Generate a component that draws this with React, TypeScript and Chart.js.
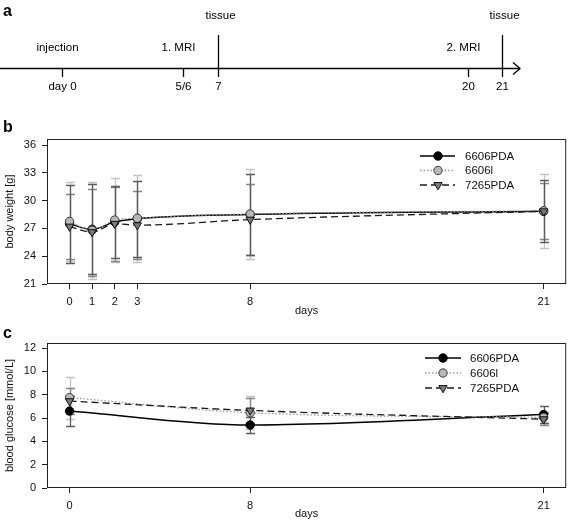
import React, { useEffect, useRef } from 'react';
import { Chart, registerables } from 'chart.js';

Chart.register(...registerables);

const FONT = '"Liberation Sans", Arial, Helvetica, sans-serif';

// ---------- Panel a: study timeline (schematic positions) ----------
const timelineTickLabels = ['day 0', '5/6', '7', '20', '21'];
const timelinePos = [0, 5.4, 7, 18.2, 19.7];
const timelineEvents = ['injection', '1. MRI', 'tissue', '2. MRI', 'tissue'];
const timelineTall = [false, false, true, false, true];

// ---------- Series ----------
const seriesNames = ['6606PDA', '6606l', '7265PDA'];

// ---------- Panel b: body weight [g] ----------
const weightDays = [0, 1, 2, 3, 8, 21];
const weight6606PDA = [27.5, 26.9, 27.7, 28.05, 28.5, 28.85];
const weight6606PDASD = [4.2, 4.85, 3.9, 4.1, 4.4, 3.35];
const weight6606I = [27.75, 26.8, 27.9, 28.1, 28.55, 28.9];
const weight6606ISD = [4.3, 5.25, 4.5, 4.7, 4.85, 4.0];
const weight7265PDA = [27.2, 26.6, 27.5, 27.35, 27.95, 28.85];
const weight7265PDASD = [3.5, 4.7, 4.0, 3.7, 3.85, 3.0];
const weightYTicks = [21, 24, 27, 30, 33, 36];

// ---------- Panel c: blood glucose [mmol/L] ----------
const glucoseDays = [0, 8, 21];
const glucose6606PDA = [6.6, 5.4, 6.3];
const glucose6606PDASD = [1.25, 0.65, 0.7];
const glucose6606I = [7.75, 6.45, 6.05];
const glucose6606ISD = [1.8, 1.4, 0.5];
const glucose7265PDA = [7.45, 6.65, 5.9];
const glucose7265PDASD = [1.1, 1.05, 0.5];
const glucoseYTicks = [0, 2, 4, 6, 8, 10, 12];

type Style = {
  line: string; lw: number; dash: number[]; point: string; r: number;
  fill: string; pborder: string; rot: number; err: string; order: number; errZ: number;
};

const seriesStyles: Style[] = [
  { line: '#000000', lw: 1.4, dash: [], point: 'circle', r: 4.2, fill: '#000000', pborder: '#000000', rot: 0, err: '#5c5c5c', order: 3, errZ: 2 },
  { line: '#9a9a9a', lw: 1.3, dash: [1.5, 2], point: 'circle', r: 4.2, fill: '#b8b8b8', pborder: '#3a3a3a', rot: 0, err: '#c4c4c4', order: 2, errZ: 0 },
  { line: '#1a1a1a', lw: 1.3, dash: [7, 4], point: 'triangle', r: 4.8, fill: '#7a7a7a', pborder: '#111111', rot: 180, err: '#868686', order: 1, errZ: 1 },
];

function buildDatasets(days: number[], means: number[][], sds: number[][]) {
  return seriesNames.map((name, i) => {
    const st = seriesStyles[i];
    return {
      label: name,
      data: days.map((d, j) => ({ x: d, y: means[i][j] })),
      sd: sds[i],
      errColor: st.err,
      errZ: st.errZ,
      borderColor: st.line,
      borderWidth: st.lw,
      borderDash: st.dash,
      backgroundColor: st.fill,
      pointStyle: st.point,
      pointRadius: st.r,
      pointHoverRadius: st.r,
      pointBackgroundColor: st.fill,
      pointBorderColor: st.pborder,
      pointBorderWidth: 1,
      pointRotation: st.rot,
      cubicInterpolationMode: 'monotone',
      fill: false,
      order: st.order,
    };
  });
}

const errorBarPlugin = {
  id: 'errorBars',
  beforeDatasetsDraw(chart: any) {
    const { ctx, scales } = chart;
    const x = scales.x;
    const y = scales.y;
    const sets = [...chart.data.datasets].sort((a: any, b: any) => a.errZ - b.errZ);
    sets.forEach((ds: any) => {
      ctx.save();
      ctx.strokeStyle = ds.errColor;
      ctx.lineWidth = 1.3;
      ds.data.forEach((p: any, i: number) => {
        const px = Math.round(x.getPixelForValue(p.x)) + 0.5;
        const top = Math.round(y.getPixelForValue(p.y + ds.sd[i])) + 0.5;
        const bot = Math.round(y.getPixelForValue(p.y - ds.sd[i])) + 0.5;
        ctx.beginPath();
        ctx.moveTo(px, top);
        ctx.lineTo(px, bot);
        ctx.moveTo(px - 4.5, top);
        ctx.lineTo(px + 4.5, top);
        ctx.moveTo(px - 4.5, bot);
        ctx.lineTo(px + 4.5, bot);
        ctx.stroke();
      });
      ctx.restore();
    });
  },
};

function drawMarker(ctx: CanvasRenderingContext2D, st: Style, cx: number, cy: number) {
  ctx.save();
  ctx.fillStyle = st.fill;
  ctx.strokeStyle = st.pborder;
  ctx.lineWidth = 1;
  ctx.setLineDash([]);
  ctx.beginPath();
  if (st.point === 'triangle') {
    let rad = (st.rot * Math.PI) / 180;
    for (let k = 0; k < 3; k++) {
      const px = cx + Math.sin(rad) * st.r;
      const py = cy - Math.cos(rad) * st.r;
      if (k === 0) ctx.moveTo(px, py);
      else ctx.lineTo(px, py);
      rad += (2 * Math.PI) / 3;
    }
    ctx.closePath();
  } else {
    ctx.arc(cx, cy, st.r, 0, Math.PI * 2);
  }
  ctx.fill();
  ctx.stroke();
  ctx.restore();
}

type LegendPos = { x0: number; x1: number; mx: number; tx: number; y: number; gap: number };

function framePlugin(letter: string, letterY: number, lg: LegendPos) {
  return {
    id: 'frameLegend',
    afterDraw(chart: any) {
      const { ctx, chartArea: a } = chart;
      ctx.save();
      ctx.strokeStyle = '#222';
      ctx.lineWidth = 1;
      ctx.strokeRect(a.left + 0.5, a.top + 0.5, a.right - a.left - 1, a.bottom - a.top - 1);
      // legend
      ctx.font = `11.5px ${FONT}`;
      ctx.textBaseline = 'middle';
      ctx.textAlign = 'left';
      seriesNames.forEach((name, i) => {
        const st = seriesStyles[i];
        const yy = lg.y + i * lg.gap;
        ctx.save();
        ctx.strokeStyle = st.line;
        ctx.lineWidth = st.lw;
        ctx.setLineDash(st.dash);
        ctx.beginPath();
        ctx.moveTo(lg.x0, yy);
        ctx.lineTo(lg.x1, yy);
        ctx.stroke();
        ctx.restore();
        drawMarker(ctx, st, lg.mx, yy);
        ctx.fillStyle = '#111';
        ctx.fillText(name, lg.tx, yy + 0.5);
      });
      // panel letter
      ctx.font = `bold 16px ${FONT}`;
      ctx.textBaseline = 'alphabetic';
      ctx.fillStyle = '#000';
      ctx.fillText(letter, 3, letterY);
      ctx.restore();
    },
  };
}

type PanelOpts = {
  days: number[]; means: number[][]; sds: number[][];
  yMin: number; yMax: number; yTicks: number[]; xTicks: number[];
  yTitle: string; letter: string; letterY: number; padTop: number; xAxisH: number; titlePadBottom: number;
  legend: LegendPos;
};

function makePanel(canvas: HTMLCanvasElement, o: PanelOpts) {
  const tickFont = { family: FONT, size: 11 };
  const gridCfg = { display: true, drawOnChartArea: false, drawTicks: true, tickLength: 5, tickColor: '#222', tickWidth: 1 };
  return new Chart(canvas, {
    type: 'line',
    data: { datasets: buildDatasets(o.days, o.means, o.sds) as any },
    options: {
      animation: false,
      responsive: false,
      devicePixelRatio: 1,
      layout: { padding: { top: o.padTop, right: 3, left: 0, bottom: 0 } },
      plugins: { legend: { display: false }, tooltip: { enabled: false } },
      scales: {
        x: {
          type: 'linear',
          min: -1,
          max: 22,
          afterBuildTicks: (s: any) => { s.ticks = o.xTicks.map((v) => ({ value: v })); },
          afterFit: (s: any) => { s.height = o.xAxisH; },
          grid: gridCfg,
          border: { display: false },
          ticks: { font: tickFont, color: '#111', padding: 6, maxRotation: 0, autoSkip: false },
          title: { display: true, text: 'days', font: tickFont, color: '#111', padding: { top: 0, bottom: o.titlePadBottom } },
        },
        y: {
          type: 'linear',
          min: o.yMin,
          max: o.yMax,
          afterBuildTicks: (s: any) => { s.ticks = o.yTicks.map((v) => ({ value: v })); },
          afterFit: (s: any) => { s.width = 47; },
          grid: gridCfg,
          border: { display: false },
          ticks: { font: tickFont, color: '#111', padding: 6 },
          title: { display: true, text: o.yTitle, font: tickFont, color: '#111', padding: { top: 3, bottom: 0 } },
        },
      },
    } as any,
    plugins: [errorBarPlugin, framePlugin(o.letter, o.letterY, o.legend)],
  });
}

function makeTimeline(canvas: HTMLCanvasElement) {
  const timelinePlugin = {
    id: 'timeline',
    afterDraw(chart: any) {
      const { ctx, chartArea: a, scales } = chart;
      const x = scales.x;
      const axisY = 68.5;
      ctx.save();
      ctx.strokeStyle = '#000';
      ctx.lineWidth = 1.3;
      ctx.beginPath();
      ctx.moveTo(a.left, axisY);
      ctx.lineTo(a.right, axisY);
      ctx.stroke();
      ctx.beginPath();
      ctx.moveTo(a.right - 7, axisY - 6);
      ctx.lineTo(a.right, axisY);
      ctx.lineTo(a.right - 7, axisY + 6);
      ctx.stroke();
      ctx.font = `11.5px ${FONT}`;
      ctx.fillStyle = '#000';
      ctx.textAlign = 'center';
      ctx.textBaseline = 'middle';
      timelinePos.forEach((p, i) => {
        const px = Math.round(x.getPixelForValue(p)) + 0.5;
        ctx.beginPath();
        ctx.moveTo(px, timelineTall[i] ? 35 : axisY);
        ctx.lineTo(px, 77);
        ctx.stroke();
        ctx.fillText(timelineTickLabels[i], px, 87);
        ctx.fillText(timelineEvents[i], timelineTall[i] ? px + 2 : px - 5, timelineTall[i] ? 16 : 48);
      });
      ctx.font = `bold 16px ${FONT}`;
      ctx.textAlign = 'left';
      ctx.textBaseline = 'alphabetic';
      ctx.fillText('a', 3, 16);
      ctx.restore();
    },
  };
  return new Chart(canvas, {
    type: 'scatter',
    data: { datasets: [{ data: timelinePos.map((p) => ({ x: p, y: 0 })), pointRadius: 0, showLine: false }] },
    options: {
      animation: false,
      responsive: false,
      devicePixelRatio: 1,
      layout: { padding: { left: 0, right: 52, top: 0, bottom: 0 } },
      plugins: { legend: { display: false }, tooltip: { enabled: false } },
      scales: {
        x: { type: 'linear', display: false, min: -2.776, max: 20.51 },
        y: { type: 'linear', display: false, min: -1, max: 1 },
      },
    } as any,
    plugins: [timelinePlugin],
  });
}

export default function App() {
  const aRef = useRef<HTMLCanvasElement>(null);
  const bRef = useRef<HTMLCanvasElement>(null);
  const cRef = useRef<HTMLCanvasElement>(null);

  useEffect(() => {
    const charts = [
      makeTimeline(aRef.current!),
      makePanel(bRef.current!, {
        days: weightDays,
        means: [weight6606PDA, weight6606I, weight7265PDA],
        sds: [weight6606PDASD, weight6606ISD, weight7265PDASD],
        yMin: 21, yMax: 36.65, yTicks: weightYTicks, xTicks: weightDays,
        yTitle: 'body weight [g]', letter: 'b', letterY: 21.7,
        padTop: 29, xAxisH: 38, titlePadBottom: 4,
        legend: { x0: 420, x1: 455, mx: 438, tx: 465, y: 46, gap: 14.5 },
      }),
      makePanel(cRef.current!, {
        days: glucoseDays,
        means: [glucose6606PDA, glucose6606I, glucose7265PDA],
        sds: [glucose6606PDASD, glucose6606ISD, glucose7265PDASD],
        yMin: 0, yMax: 12.43, yTicks: glucoseYTicks, xTicks: glucoseDays,
        yTitle: 'blood glucose [mmol/L]', letter: 'c', letterY: 16.3,
        padTop: 21, xAxisH: 35, titlePadBottom: 2,
        legend: { x0: 425, x1: 461, mx: 443, tx: 470, y: 36, gap: 15 },
      }),
    ];
    return () => charts.forEach((c) => c.destroy());
  }, []);

  return (
    <div style={{ position: 'absolute', left: 0, top: 0, width: 572, height: 523, background: '#ffffff', overflow: 'hidden' }}>
      <canvas ref={aRef} width={572} height={110} style={{ position: 'absolute', left: 0, top: 0 }} />
      <canvas ref={bRef} width={572} height={212} style={{ position: 'absolute', left: 0, top: 110 }} />
      <canvas ref={cRef} width={572} height={201} style={{ position: 'absolute', left: 0, top: 322 }} />
    </div>
  );
}
